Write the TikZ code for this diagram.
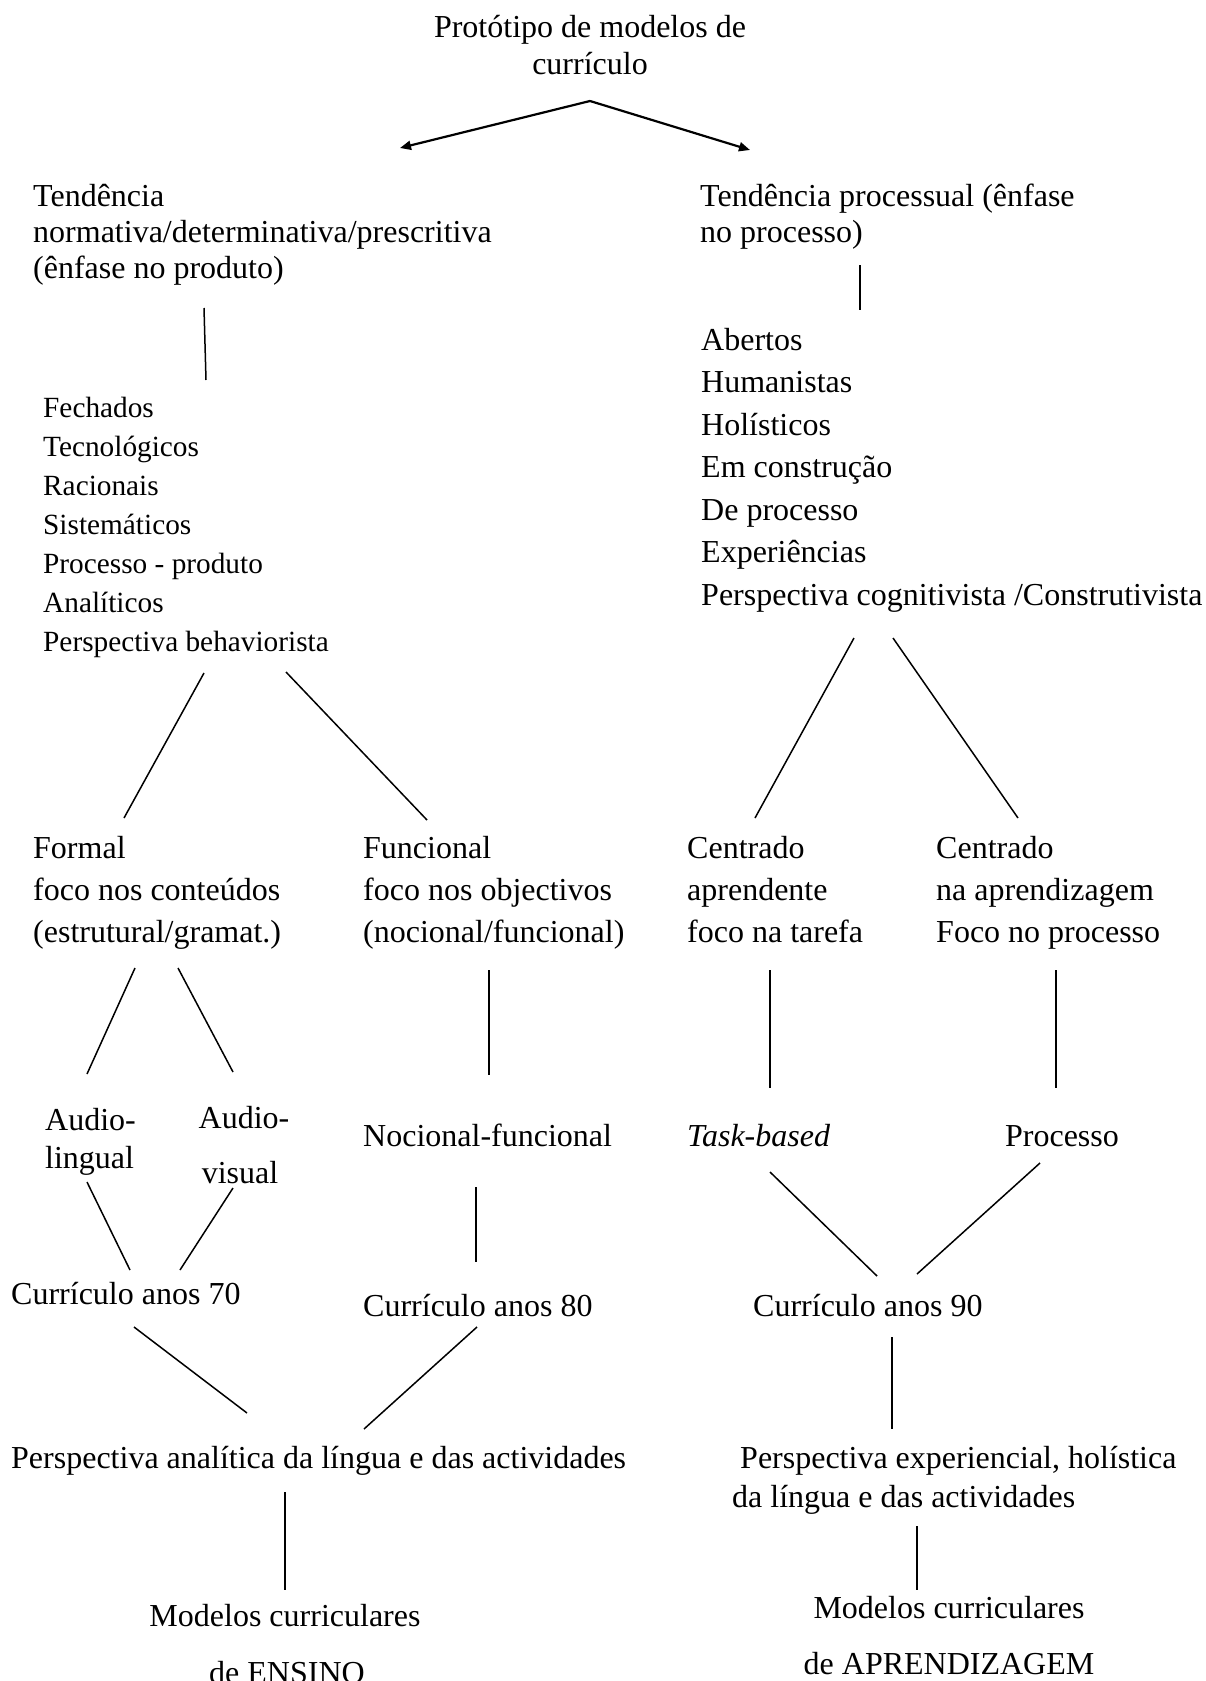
\documentclass[tikz,border=0pt]{standalone}
\usepackage{fontspec}
\setmainfont{Liberation Serif}
\usetikzlibrary{arrows.meta}
\tikzset{
  txt/.style={inner sep=0pt, anchor=base west, font=\fontsize{32}{38}\selectfont},
  ctxt/.style={inner sep=0pt, anchor=base, font=\fontsize{32}{38}\selectfont},
  smtxt/.style={inner sep=0pt, anchor=base west, font=\fontsize{29.3}{35}\selectfont},
  ln/.style={line width=1.5pt},
  arr/.style={line width=2.2pt, -{Triangle[length=11pt,width=9pt]}}
}
\begin{document}
\begin{tikzpicture}[x=1pt,y=-1pt]
\useasboundingbox (0,0) rectangle (1205,1681);
% title
\node[ctxt] (t1) at (590,37) {Protótipo de modelos de};
\node[ctxt] (t2) at (590,74) {currículo};
% left tendency
\node[txt] (a1) at (33,206) {Tendência};
\node[txt] (a2) at (33,242) {normativa/determinativa/prescritiva};
\node[txt] (a3) at (33,278) {(ênfase no produto)};
% right tendency
\node[txt] (b1) at (700,206) {Tendência processual (ênfase};
\node[txt] (b2) at (700,242) {no processo)};
% left list
\node[smtxt] (c1) at (43,417) {Fechados};
\node[smtxt] (c2) at (43,456) {Tecnológicos};
\node[smtxt] (c3) at (43,495) {Racionais};
\node[smtxt] (c4) at (43,534) {Sistemáticos};
\node[smtxt] (c5) at (43,573) {Processo - produto};
\node[smtxt] (c6) at (43,612) {Analíticos};
\node[smtxt] (c7) at (43,651) {Perspectiva behaviorista};
% right list
\node[txt] (d1) at (701,350) {Abertos};
\node[txt] (d2) at (701,392.5) {Humanistas};
\node[txt] (d3) at (701,435) {Holísticos};
\node[txt] (d4) at (701,477.5) {Em construção};
\node[txt] (d5) at (701,520) {De processo};
\node[txt] (d6) at (701,562.5) {Experiências};
\node[txt] (d7) at (701,605) {Perspectiva cognitivista /Construtivista};
% row 3
\node[txt] (e1) at (33,858) {Formal};
\node[txt] (e2) at (33,900) {foco nos conteúdos};
\node[txt] (e3) at (33,942) {(estrutural/gramat.)};
\node[txt] (f1) at (363,858) {Funcional};
\node[txt] (f2) at (363,900) {foco nos objectivos};
\node[txt] (f3) at (363,942) {(nocional/funcional)};
\node[txt] (g1) at (687,858) {Centrado};
\node[txt] (g2) at (687,900) {aprendente};
\node[txt] (g3) at (687,942) {foco na tarefa};
\node[txt] (h1) at (936,858) {Centrado};
\node[txt] (h2) at (936,900) {na aprendizagem};
\node[txt] (h3) at (936,942) {Foco no processo};
% row 4
\node[txt] (i1) at (45,1130) {Audio-};
\node[txt] (i2) at (45,1168) {lingual};
\node[ctxt] (j1) at (244,1128) {Audio-};
\node[ctxt] (j2) at (240,1183) {visual};
\node[txt] (k1) at (363,1146) {Nocional-funcional};
\node[txt] (m1) at (687,1146) {\textit{Task-based}};
\node[ctxt] (n1) at (1062,1146) {Processo};
% row 5
\node[txt] (p1) at (11,1304) {Currículo anos 70};
\node[txt] (p2) at (363,1316) {Currículo anos 80};
\node[txt] (p3) at (753,1316) {Currículo anos 90};
% row 6
\node[txt] (q1) at (11,1468) {Perspectiva analítica da língua e das actividades};
\node[txt] (r1) at (740,1468) {Perspectiva experiencial, holística};
\node[txt] (r2) at (732,1507) {da língua e das actividades};
% row 7
\node[ctxt] (s1) at (285,1626) {Modelos curriculares};
\node[ctxt] (s2) at (287,1683) {de ENSINO};
\node[ctxt] (u1) at (949,1618) {Modelos curriculares};
\node[ctxt] (u2) at (949,1674) {de APRENDIZAGEM};
% connector end points
\coordinate (top) at (590,101);
\coordinate (topL) at (400,148);
\coordinate (topR) at (750,150);
\coordinate (v1a) at (204,308); \coordinate (v1b) at (206,380);
\coordinate (v2a) at (860,265); \coordinate (v2b) at (860,310);
\coordinate (x1a) at (204,673); \coordinate (x1b) at (124,818);
\coordinate (x2a) at (286,672); \coordinate (x2b) at (427,820);
\coordinate (x3a) at (854,638); \coordinate (x3b) at (755,818);
\coordinate (x4a) at (893,638); \coordinate (x4b) at (1018,818);
\coordinate (y1a) at (135,968); \coordinate (y1b) at (87,1074);
\coordinate (y2a) at (178,968); \coordinate (y2b) at (233,1072);
\coordinate (y3a) at (489,970); \coordinate (y3b) at (489,1075);
\coordinate (y4a) at (770,970); \coordinate (y4b) at (770,1088);
\coordinate (y5a) at (1056,970); \coordinate (y5b) at (1056,1088);
\coordinate (z1a) at (87,1182); \coordinate (z1b) at (130,1270);
\coordinate (z2a) at (233,1188); \coordinate (z2b) at (180,1270);
\coordinate (z3a) at (476,1187); \coordinate (z3b) at (476,1262);
\coordinate (z4a) at (770,1172); \coordinate (z4b) at (877,1276);
\coordinate (z5a) at (1040,1163); \coordinate (z5b) at (917,1274);
\coordinate (w1a) at (134,1327); \coordinate (w1b) at (247,1413);
\coordinate (w2a) at (477,1327); \coordinate (w2b) at (364,1429);
\coordinate (w3a) at (892,1337); \coordinate (w3b) at (892,1429);
\coordinate (o1a) at (285,1492); \coordinate (o1b) at (285,1590);
\coordinate (o2a) at (917,1526); \coordinate (o2b) at (917,1590);
% connectors
\draw[arr] (top) -- (topL);
\draw[arr] (top) -- (topR);
\foreach \p in {v1,v2,x1,x2,x3,x4,y1,y2,y3,y4,y5,z1,z2,z3,z4,z5,w1,w2,w3,o1,o2}
  \draw[ln] (\p a) -- (\p b);
\end{tikzpicture}
\end{document}
